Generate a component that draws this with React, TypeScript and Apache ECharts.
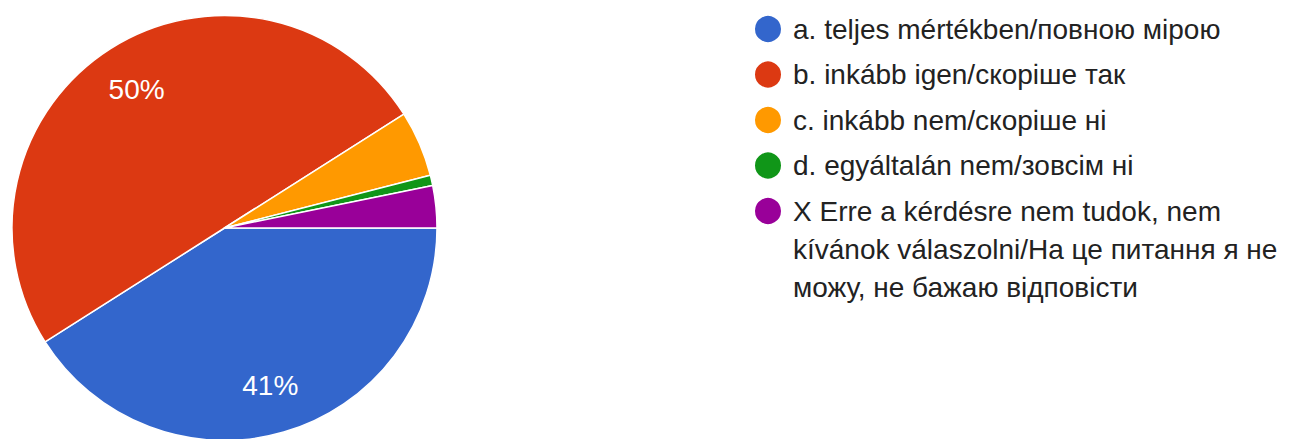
import React, { useEffect, useRef } from "react";
import * as echarts from "echarts";

const categories = [
  "a. teljes mértékben/повною мірою",
  "b. inkább igen/скоріше так",
  "c. inkább nem/скоріше ні",
  "d. egyáltalán nem/зовсім ні",
  "X Erre a kérdésre nem tudok, nem kívánok válaszolni/На це питання я не можу, не бажаю відповісти",
];
const shares = [41, 50, 5, 0.8, 3.2];
const colors = ["#3366cc", "#dc3912", "#ff9900", "#109618", "#990099"];
const lastLegendLines = [
  "X Erre a kérdésre nem tudok, nem",
  "kívánok válaszolni/На це питання я не",
  "можу, не бажаю відповісти",
];

const FONT = "'Liberation Sans', Arial, Helvetica, sans-serif";

export default function App() {
  const ref = useRef<HTMLDivElement>(null);
  useEffect(() => {
    if (!ref.current) return;
    const chart = echarts.init(ref.current, null, { renderer: "svg" });
    const data = categories.map((name, i) => ({
      name,
      value: shares[i],
      itemStyle: { color: colors[i] },
    }));
    const center = [224.5, 228];
    chart.setOption({
      animation: false,
      backgroundColor: "#ffffff",
      legend: [
        {
          orient: "vertical",
          left: 753,
          top: 10,
          padding: 0,
          icon: "circle",
          itemWidth: 28,
          itemHeight: 28,
          itemGap: 7.5,
          selectedMode: false,
          data: categories.slice(0, 4),
          textStyle: {
            fontSize: 28,
            lineHeight: 38,
            color: "#222222",
            fontFamily: FONT,
            padding: [0, 0, 0, 6],
          },
        },
        {
          orient: "vertical",
          left: 753,
          top: 116,
          padding: 0,
          icon: "circle",
          itemWidth: 28,
          itemHeight: 28,
          selectedMode: false,
          data: categories.slice(4),
          formatter: () => lastLegendLines.map((l) => `{t|${l}}`).join("\n"),
          textStyle: {
            color: "#222222",
            fontFamily: FONT,
            fontSize: 28,
            lineHeight: 38,
            padding: [76, 0, 0, 6],
            rich: {
              t: {
                fontSize: 28,
                lineHeight: 38,
                color: "#222222",
                fontFamily: FONT,
              },
            },
          },
        },
      ],
      series: [
        {
          type: "pie",
          name: "shares",
          center,
          radius: [0, 212.5],
          startAngle: 0,
          clockwise: true,
          silent: true,
          label: { show: false },
          labelLine: { show: false },
          emphasis: { disabled: true },
          itemStyle: { borderColor: "#ffffff", borderWidth: 1.5 },
          data,
        },
        {
          type: "pie",
          name: "labels",
          center,
          radius: [109.5, 212.5],
          startAngle: 0,
          clockwise: true,
          silent: true,
          legendHoverLink: false,
          emphasis: { disabled: true },
          itemStyle: { color: "rgba(0,0,0,0)", borderWidth: 0 },
          labelLine: { show: false },
          label: {
            show: true,
            position: "inside",
            color: "#ffffff",
            fontSize: 28,
            fontFamily: FONT,
            formatter: (p: any) => (p.percent >= 10 ? `${Math.round(p.percent)}%` : ""),
          },
          data: categories.map((name, i) => ({ name, value: shares[i] })),
        },
      ],
    });
    return () => chart.dispose();
  }, []);
  return (
    <div
      ref={ref}
      style={{ position: "absolute", left: 0, top: 0, width: 1293, height: 439 }}
    />
  );
}
